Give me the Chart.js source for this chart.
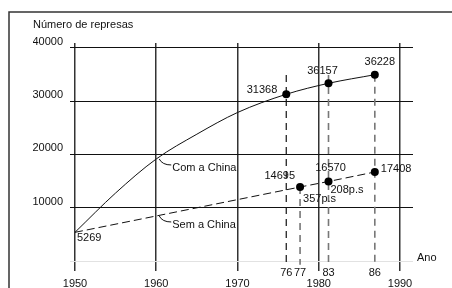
<!DOCTYPE html>
<html><head><meta charset="utf-8">
<script src="https://cdn.jsdelivr.net/npm/chart.js@4.4.1/dist/chart.umd.min.js"></script>
<style>html,body{margin:0;padding:0;background:#fff;}#wrap{width:452px;height:288px;position:relative;overflow:hidden;}</style>
</head><body><div id="wrap"><canvas id="c" width="452" height="288"></canvas></div>
<script>
// ---- data ----
const chartTitle = 'Número de represas';
const xAxisTitle = 'Ano';
const decadeTicks = [1950, 1960, 1970, 1980, 1990];
const yTicks = [0, 10000, 20000, 30000, 40000];
const markerYears = [1976, 1977.7, 1981.2, 1986.9];
const markerLabels = ['76', '77', '83', '86'];
const guideTops = [34900, 13880, 34900, 34950];
const comLabel = 'Com a China';
const semLabel = 'Sem a China';
const comYears = [1950, 1955, 1960, 1965, 1970, 1976, 1981.2, 1986.9];
const comValues = [5380, 12760, 19140, 23790, 27860, 31280, 33340, 34950];
const semYears = [1950, 1977.7, 1981.2, 1986.9];
const semValues = [5380, 13880, 14920, 16700];
const comMarked = [1976, 1981.2, 1986.9];
const semMarked = [1977.7, 1981.2, 1986.9];
const comTexts = ['31368', '36157', '36228'];
const semTexts = ['14695', '16570', '17408'];
const startText = '5269';
const noteTexts = ['357p.s', '208p.s'];
const noteYears = [1977.7, 1981.2];
const seriesNoteYear = 1960;

const FONT = '11px "Liberation Sans", Arial, sans-serif';
const INK = '#111';

const comData = comYears.map((x, i) => ({x, y: comValues[i]}));
const semData = semYears.map((x, i) => ({x, y: semValues[i]}));
const guideSets = markerYears.map((yr, i) => ({
  type: 'line',
  data: [{x: yr, y: guideTops[i]}, {x: yr, y: -700}],
  borderColor: i === 0 ? '#111' : '#777',
  borderWidth: i === 0 ? 1.2 : 1.6,
  borderDash: [7, 5],
  pointRadius: 0,
  clip: 10,
  order: 5
}));

function valueAt(years, values, yr) {
  for (let i = 0; i < years.length - 1; i++) {
    if (yr >= years[i] && yr <= years[i + 1]) {
      const t = (yr - years[i]) / (years[i + 1] - years[i]);
      return values[i] + t * (values[i + 1] - values[i]);
    }
  }
  return values[0];
}

const decor = {
  id: 'decor',
  beforeDraw(chart) {
    const c = chart.ctx;
    c.save();
    c.fillStyle = '#fff';
    c.fillRect(0, 0, chart.width, chart.height);
    c.strokeStyle = '#333';
    c.lineWidth = 1.5;
    c.beginPath();
    c.moveTo(9, chart.height + 5);
    c.lineTo(9, 12);
    c.lineTo(chart.width + 5, 12);
    c.stroke();
    c.fillStyle = INK;
    c.font = FONT;
    c.textBaseline = 'middle';
    c.textAlign = 'left';
    c.fillText(chartTitle, 33, 24.5);
    c.fillText(xAxisTitle, chart.chartArea.right + 4, 257.5);
    c.restore();
  },
  afterDatasetsDraw(chart) {
    const c = chart.ctx, xs = chart.scales.x, ys = chart.scales.y;
    const px = v => xs.getPixelForValue(v), py = v => ys.getPixelForValue(v);
    c.save();
    c.fillStyle = INK;
    c.font = FONT;
    c.textBaseline = 'middle';
    const put = (t, x, y, al) => { c.textAlign = al; c.fillText(t, x, y); };
    const cp = comMarked.map(yr => ({x: px(yr), y: py(valueAt(comYears, comValues, yr))}));
    put(comTexts[0], cp[0].x - 9, cp[0].y - 4, 'right');
    put(comTexts[1], cp[1].x - 6, cp[1].y - 12.5, 'center');
    put(comTexts[2], cp[2].x + 5, cp[2].y - 12.5, 'center');
    const sp = semMarked.map(yr => ({x: px(yr), y: py(valueAt(semYears, semValues, yr))}));
    put(semTexts[0], sp[0].x - 5, sp[0].y - 11, 'right');
    put(semTexts[1], sp[1].x + 2, sp[1].y - 14, 'center');
    put(semTexts[2], sp[2].x + 6, sp[2].y - 3, 'left');
    const n0 = {x: px(noteYears[0]), y: py(valueAt(semYears, semValues, noteYears[0]))};
    const n1 = {x: px(noteYears[1]), y: py(valueAt(semYears, semValues, noteYears[1]))};
    put(noteTexts[0], n0.x + 3, n0.y + 12, 'left');
    put(noteTexts[1], n1.x + 2, n1.y + 8, 'left');
    put(startText, px(comYears[0]) + 2, py(comValues[0]) + 6, 'left');
    c.strokeStyle = INK;
    c.lineWidth = 1;
    const leader = (ax, ay, text) => {
      c.beginPath();
      c.moveTo(ax + 3, ay);
      c.quadraticCurveTo(ax + 6, ay + 6, ax + 15, ay + 6);
      c.stroke();
      put(text, ax + 16, ay + 9, 'left');
    };
    leader(px(seriesNoteYear), py(valueAt(comYears, comValues, seriesNoteYear)), comLabel);
    leader(px(seriesNoteYear), py(valueAt(semYears, semValues, seriesNoteYear)), semLabel);
    c.restore();
  }
};

const gridColor = ctx => (ctx.tick && decadeTicks.includes(ctx.tick.value)) ? '#333' : 'rgba(0,0,0,0)';

new Chart(document.getElementById('c'), {
  type: 'line',
  data: {
    datasets: [
      {
        label: comLabel, data: comData, borderColor: '#111', borderWidth: 1,
        cubicInterpolationMode: 'monotone', backgroundColor: '#000',
        pointBackgroundColor: '#000', pointBorderWidth: 0,
        pointRadius: ctx => comMarked.includes(comYears[ctx.dataIndex]) ? 4 : 0,
        order: 1
      },
      {
        label: semLabel, data: semData, borderColor: '#111', borderWidth: 1,
        borderDash: [8, 4], backgroundColor: '#000',
        pointBackgroundColor: '#000', pointBorderWidth: 0,
        pointRadius: ctx => semMarked.includes(semYears[ctx.dataIndex]) ? 4 : 0,
        order: 1
      },
      ...guideSets
    ]
  },
  options: {
    responsive: false,
    animation: false,
    events: [],
    layout: {padding: {top: 43, left: 33, right: 39, bottom: 0}},
    plugins: {legend: {display: false}, title: {display: false}, tooltip: {enabled: false}},
    scales: {
      x: {
        type: 'linear', min: 1949.385, max: 1991.6,
        afterBuildTicks: axis => {
          axis.ticks = [...decadeTicks, ...markerYears].sort((a, b) => a - b).map(v => ({value: v}));
        },
        afterFit: axis => { axis.height = 23; },
        border: {display: false},
        grid: {
          drawTicks: true, tickLength: 6, lineWidth: 1.5,
          color: gridColor, tickColor: gridColor
        },
        ticks: {
          autoSkip: false, maxRotation: 0, minRotation: 0, padding: -3,
          color: INK, font: {family: '"Liberation Sans", Arial, sans-serif', size: 11, lineHeight: '10.7px'},
          callback: v => decadeTicks.includes(v) ? ['', String(v)] : [markerLabels[markerYears.indexOf(v)]]
        }
      },
      y: {
        type: 'linear', min: -750, max: 40900,
        afterBuildTicks: axis => { axis.ticks = yTicks.map(v => ({value: v})); },
        afterFit: axis => { axis.width = 37; },
        border: {display: false},
        grid: {
          drawTicks: false, lineWidth: 1,
          color: ctx => (ctx.tick && ctx.tick.value === 0) ? '#e2e2e2' : '#111'
        },
        ticks: {
          padding: 7, labelOffset: -6, color: INK,
          font: {family: '"Liberation Sans", Arial, sans-serif', size: 11},
          callback: v => v === 0 ? '' : String(v)
        }
      }
    }
  },
  plugins: [decor]
});
</script></body></html>
